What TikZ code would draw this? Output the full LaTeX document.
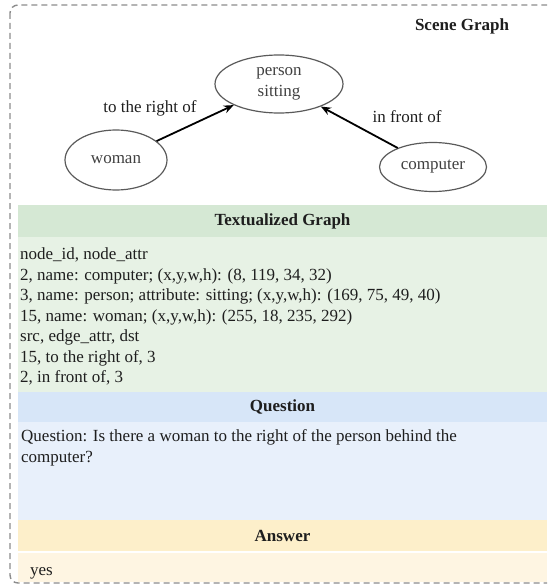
\documentclass[tikz,border=0pt]{standalone}
\usepackage{fontspec}
\setmainfont{Liberation Serif}
\usetikzlibrary{arrows.meta,shapes.geometric}
\definecolor{ghead}{HTML}{D5E8D4}
\definecolor{gbody}{HTML}{E7F2E5}
\definecolor{bhead}{HTML}{D7E6F8}
\definecolor{bbody}{HTML}{E8F0FB}
\definecolor{yhead}{HTML}{FDEFCA}
\definecolor{ybody}{HTML}{FEF5E2}
\definecolor{txt}{HTML}{1E1E1E}
\definecolor{ell}{HTML}{5A5A5A}
\definecolor{dash}{HTML}{8C8C8C}
\begin{document}
\begin{tikzpicture}[x=1pt,y=-1pt,
  every node/.style={font=\fontsize{17}{22}\selectfont, text=txt, inner sep=0pt},
  gnode/.style={ellipse, draw=ell, line width=1.2pt, align=center, text=txt!85},
  hdr/.style={font=\fontsize{17}{22}\selectfont\bfseries, anchor=center},
  line/.style={anchor=base west},
  rel/.style={-{Stealth[length=10pt,width=8pt]}, line width=1.8pt, black, shorten >=0pt},
  dashbox/.style={draw=dash, line width=1.4pt, dash pattern=on 6pt off 4pt, rounded corners=8pt}]
\useasboundingbox (0,0) rectangle (547,586);
\begin{scope}
\clip (0,0) rectangle (547,586);
% section backgrounds
\fill[ghead] (18,205) rectangle (547,237);
\fill[gbody] (18,237) rectangle (547,392);
\fill[bhead] (18,392) rectangle (547,422);
\fill[bbody] (18,422) rectangle (547,520);
\fill[yhead] (18,520) rectangle (547,551);
\fill[ybody] (18,553) rectangle (547,582);
% outer dashed frame
\draw[dashbox] (10,5) rectangle (570,583);
\end{scope}

% scene graph
\node[hdr] (sgtitle) at (462,26) {Scene Graph};
\node[gnode, minimum width=128pt, minimum height=58pt] (person) at (279,84) {person\\[-1pt]sitting};
\node[gnode, minimum width=102pt, minimum height=60pt] (woman) at (116,160) {woman};
\node[gnode, minimum width=107pt, minimum height=49pt] (computer) at (433,167) {computer};
\draw[rel] (woman) -- (person);
\draw[rel] (computer) -- (person);
\node (lright) at (150,108) {to the right of};
\node (lfront) at (407,117) {in front of};

% textualized graph
\node[hdr] (tgtitle) at (282.5,221) {Textualized Graph};
\node[line] (t1) at (20,259) {node\_id, node\_attr};
\node[line] (t2) at (20,280) {2, name: computer; (x,y,w,h): (8, 119, 34, 32)};
\node[line] (t3) at (20,300) {3, name: person; attribute: sitting; (x,y,w,h): (169, 75, 49, 40)};
\node[line] (t4) at (20,321) {15, name: woman; (x,y,w,h): (255, 18, 235, 292)};
\node[line] (t5) at (20,341) {src, edge\_attr, dst};
\node[line] (t6) at (20,362) {15, to the right of, 3};
\node[line] (t7) at (20,382) {2, in front of, 3};

% question
\node[hdr] (qtitle) at (282.5,407) {Question};
\node[line] (q1) at (21,441) {Question: Is there a woman to the right of the person behind the};
\node[line] (q2) at (21,462) {computer?};

% answer
\node[hdr] (atitle) at (282.5,536) {Answer};
\node[line] (a1) at (30,575) {yes};
\end{tikzpicture}
\end{document}
